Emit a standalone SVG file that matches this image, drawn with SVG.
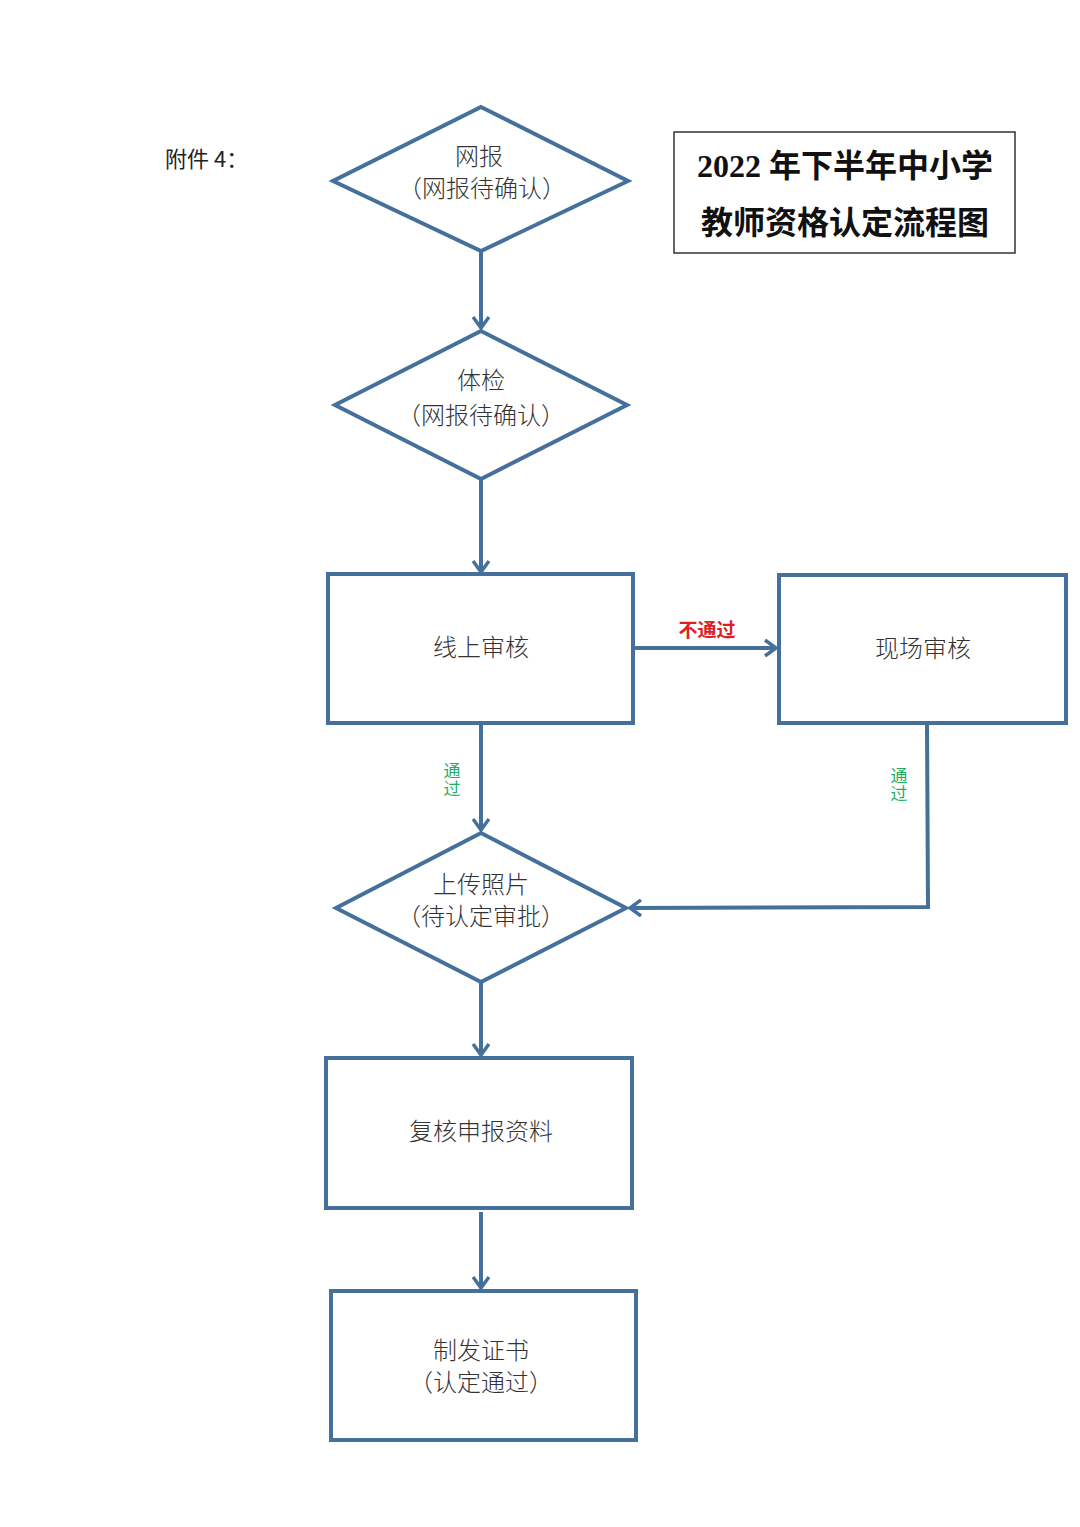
<svg xmlns="http://www.w3.org/2000/svg" width="1080" height="1527" viewBox="0 0 1080 1527">
<defs>
<style>
.shape{fill:#ffffff;stroke:#44709b;stroke-width:4;stroke-linejoin:miter}
.line{fill:none;stroke:#44709b;stroke-width:4}
.t{font-family:"Noto Sans CJK SC","Noto Sans",sans-serif;font-size:24px;font-weight:300;fill:#333333;text-anchor:middle;text-spacing-trim:space-all}
.lbl-red{font-family:"Noto Sans CJK SC",sans-serif;font-size:19px;font-weight:bold;fill:#e0201f;text-anchor:middle}
.lbl-green{font-family:"Noto Sans CJK SC",sans-serif;font-size:17px;fill:#1fae63;writing-mode:vertical-rl;text-anchor:start;letter-spacing:1px}
.title{font-family:"Liberation Serif","Noto Sans CJK SC",serif;font-size:32px;font-weight:bold;fill:#111111;text-anchor:middle}
</style>
<marker id="arr" viewBox="0 0 16 18" refX="13" refY="9" markerWidth="16" markerHeight="18" markerUnits="userSpaceOnUse" orient="auto">
<path d="M2,1 L13,9 L2,17" fill="none" stroke="#44709b" stroke-width="3.5"/>
</marker>
</defs>
<rect width="1080" height="1527" fill="#ffffff"/>

<g id="attachment">
<text x="165" y="167" font-family="'Noto Sans CJK SC',sans-serif" font-size="22" fill="#222222">附件 4：</text>
</g>

<g id="title">
<rect x="674" y="132" width="341" height="121" fill="#ffffff" stroke="#333333" stroke-width="1.5"/>
<text class="title" x="845" y="177">2022 年下半年中小学</text>
<text class="title" x="845" y="234">教师资格认定流程图</text>
</g>

<g id="connectors">
<path class="line" d="M481,251 L481,328" marker-end="url(#arr)"/>
<path class="line" d="M481,479 L481,572" marker-end="url(#arr)"/>
<path class="line" d="M633,648 L776,648" marker-end="url(#arr)"/>
<path class="line" d="M481,723 L481,830" marker-end="url(#arr)"/>
<path class="line" d="M927,723 L928,907 L630,908" marker-end="url(#arr)"/>
<path class="line" d="M481,982 L481,1055" marker-end="url(#arr)"/>
<path class="line" d="M481,1212 L481,1288" marker-end="url(#arr)"/>
<text class="lbl-red" x="707" y="637">不通过</text>
<text class="lbl-green" x="452" y="762">通过</text>
<text class="lbl-green" x="899" y="767">通过</text>
</g>

<g id="node-wangbao">
<polygon class="shape" points="481,107 628,181 481,251 333,181"/>
<text class="t" x="479" y="165">网报</text>
<text class="t" x="482" y="197">（网报待确认）</text>
</g>

<g id="node-tijian">
<polygon class="shape" points="481,331 627,405 481,479 335,405"/>
<text class="t" x="481" y="389">体检</text>
<text class="t" x="481" y="424">（网报待确认）</text>
</g>

<g id="node-online">
<rect class="shape" x="328" y="574" width="305" height="149"/>
<text class="t" x="481" y="656">线上审核</text>
</g>

<g id="node-onsite">
<rect class="shape" x="779" y="575" width="287" height="148"/>
<text class="t" x="923" y="657">现场审核</text>
</g>

<g id="node-upload">
<polygon class="shape" points="481,833 626,908 481,982 336,908"/>
<text class="t" x="481" y="893">上传照片</text>
<text class="t" x="481" y="925">（待认定审批）</text>
</g>

<g id="node-review">
<rect class="shape" x="326" y="1058" width="306" height="150"/>
<text class="t" x="481" y="1140">复核申报资料</text>
</g>

<g id="node-cert">
<rect class="shape" x="331" y="1291" width="305" height="149"/>
<text class="t" x="481" y="1359">制发证书</text>
<text class="t" x="481" y="1391">（认定通过）</text>
</g>
</svg>
